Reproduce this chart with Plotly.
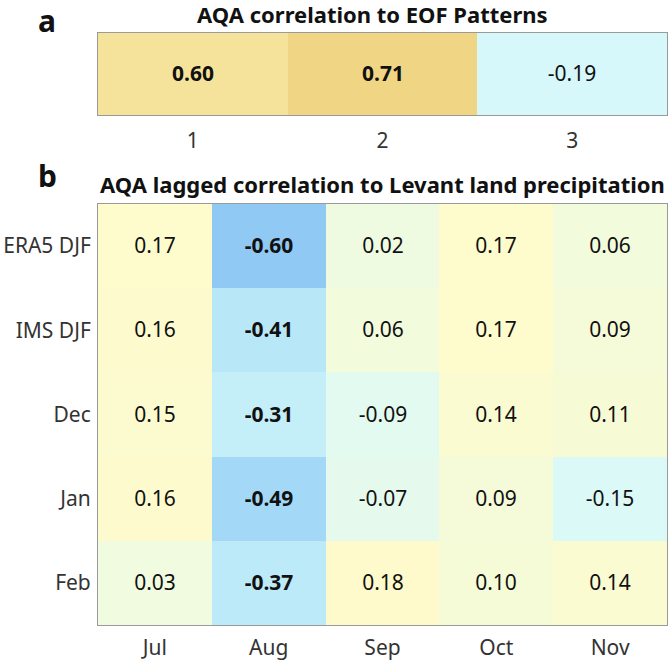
import plotly.graph_objects as go

eof_labels = ["1", "2", "3"]
eof_values = [0.60, 0.71, -0.19]
eof_bold = [True, True, False]

months = ["Jul", "Aug", "Sep", "Oct", "Nov"]
rows = ["ERA5 DJF", "IMS DJF", "Dec", "Jan", "Feb"]
lag_values = [
    [0.17, -0.60, 0.02, 0.17, 0.06],
    [0.16, -0.41, 0.06, 0.17, 0.09],
    [0.15, -0.31, -0.09, 0.14, 0.11],
    [0.16, -0.49, -0.07, 0.09, -0.15],
    [0.03, -0.37, 0.18, 0.10, 0.14],
]
lag_bold_cols = ["Aug"]

zmin, zmax = -0.75, 0.75
stops = [
    (-0.75, "#6fb4ee"),
    (-0.60, "#8fc9f4"),
    (-0.49, "#a3d9f6"),
    (-0.41, "#b8e8f8"),
    (-0.31, "#c4eef8"),
    (-0.19, "#d6f8fa"),
    (-0.09, "#e2faf0"),
    (0.0, "#eefbe4"),
    (0.06, "#f2fbdc"),
    (0.17, "#fefbcd"),
    (0.40, "#f9eeb2"),
    (0.60, "#f5e39b"),
    (0.71, "#f0d584"),
    (0.75, "#eccf7a"),
]
colorscale = [[(v - zmin) / (zmax - zmin), c] for v, c in stops]

FONT = "Noto Sans"
TS = 21

def fmt(v, bold):
    s = f"{v:.2f}"
    return f"<b>{s}</b>" if bold else s

text_a = [[fmt(v, b) for v, b in zip(eof_values, eof_bold)]]
text_b = [[fmt(v, m in lag_bold_cols) for v, m in zip(r, months)] for r in lag_values]

fig = go.Figure()
fig.add_trace(go.Heatmap(
    z=[eof_values], x=eof_labels, y=["r"], text=text_a, texttemplate="%{text}",
    textfont=dict(family=FONT, size=TS, color="#111"),
    colorscale=colorscale, zmin=zmin, zmax=zmax, showscale=False,
    xaxis="x", yaxis="y", hoverinfo="skip",
))
fig.add_trace(go.Heatmap(
    z=lag_values, x=months, y=rows, text=text_b, texttemplate="%{text}",
    textfont=dict(family=FONT, size=TS, color="#111"),
    colorscale=colorscale, zmin=zmin, zmax=zmax, showscale=False,
    xaxis="x2", yaxis="y2", hoverinfo="skip",
))

H = 664
W = 670
def py(px):
    return 1 - px / H

axis_common = dict(showline=True, linecolor="#9a9a9a", linewidth=1, mirror=True,
                   ticks="", showgrid=False, zeroline=False,
                   tickfont=dict(family=FONT, size=TS, color="#333"))

fig.update_layout(
    width=W, height=H, margin=dict(l=0, r=0, t=0, b=0),
    paper_bgcolor="white", plot_bgcolor="white",
    font=dict(family=FONT),
    xaxis=dict(domain=[98 / W, 667 / W], anchor="y", ticklabelstandoff=7, **axis_common),
    yaxis=dict(domain=[py(115), py(33)], anchor="x", showticklabels=False, **axis_common),
    xaxis2=dict(domain=[98 / W, 667 / W], anchor="y2", ticklabelstandoff=4, **axis_common),
    yaxis2=dict(domain=[py(625), py(204)], anchor="x2", autorange="reversed",
                ticklabelstandoff=2, **axis_common),
    annotations=[
        dict(text="<b>a</b>", x=47 / W, y=py(21), xref="paper", yref="paper",
             xanchor="center", yanchor="middle",
             showarrow=False, font=dict(family=FONT, size=30, color="#111")),
        dict(text="<b>AQA correlation to EOF Patterns</b>", x=372 / W, y=py(14),
             xref="paper", yref="paper", xanchor="center", yanchor="middle",
             showarrow=False, font=dict(family=FONT, size=22, color="#111")),
        dict(text="<b>b</b>", x=47 / W, y=py(176), xref="paper", yref="paper",
             xanchor="center", yanchor="middle",
             showarrow=False, font=dict(family=FONT, size=30, color="#111")),
        dict(text="<b>AQA lagged correlation to Levant land precipitation</b>",
             x=382 / W, y=py(184), xref="paper", yref="paper",
             xanchor="center", yanchor="middle", showarrow=False,
             font=dict(family=FONT, size=22, color="#111")),
    ],
)

fig.write_html("out.html", config={"displayModeBar": False},
               post_script="document.body.style.margin='0';")
